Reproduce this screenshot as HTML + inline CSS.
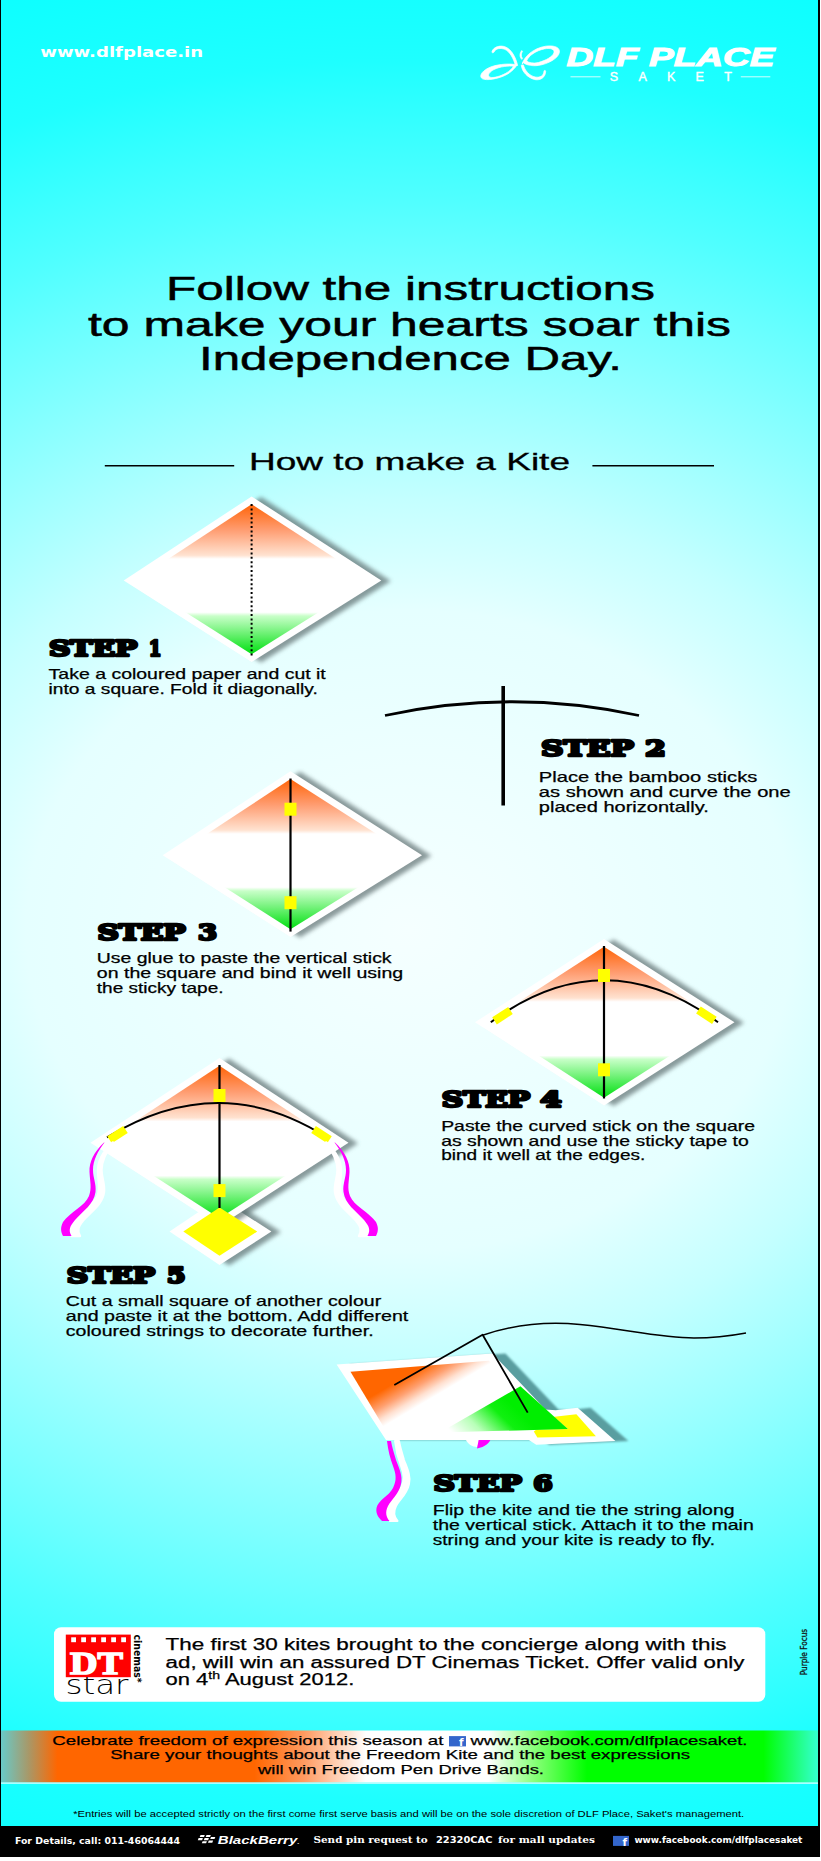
<!DOCTYPE html>
<html><head><meta charset="utf-8"><title>DLF Place Saket - How to make a Kite</title>
<style>
html,body{margin:0;padding:0;}
body{width:821px;height:1861px;overflow:hidden;background:#fff;font-family:"Liberation Sans",sans-serif;}
#page{position:relative;width:821px;height:1861px;overflow:hidden;background:#fff;}
#bg{position:absolute;left:0;top:0;width:821px;height:1857px;
background:radial-gradient(ellipse 1200px 1000px at 410px 930px,
 rgb(245,255,255) 0%, rgb(229,255,255) 32%, rgb(196,255,255) 43%, rgb(160,255,255) 52.5%, rgb(104,255,255) 67%, rgb(80,255,255) 73%, rgb(61,255,255) 78.5%, rgb(30,255,255) 87%, rgb(24,255,255) 91%, rgb(12,255,255) 100%);}
svg text{white-space:pre;}
</style></head>
<body><div id="page">
<div id="bg"></div>
<svg id="art" width="821" height="1861" viewBox="0 0 821 1861" style="position:absolute;left:0;top:0">
<defs>
<filter id="sh" x="-20%" y="-20%" width="140%" height="140%"><feGaussianBlur stdDeviation="1.9"/></filter>
<linearGradient id="tri" x1="0" y1="0" x2="0" y2="1">
<stop offset="0" stop-color="#ff6408"/><stop offset="0.17" stop-color="#ff9c70"/><stop offset="0.34" stop-color="#ffe2d0"/><stop offset="0.365" stop-color="#ffffff"/>
<stop offset="0.72" stop-color="#ffffff"/><stop offset="0.745" stop-color="#c8ffc8"/><stop offset="1" stop-color="#00e010"/>
</linearGradient>
</defs>
<rect x="0" y="0" width="1" height="1857" fill="#000"/>
<rect x="818" y="0" width="2" height="1857" fill="#000"/>
<rect x="820" y="0" width="1" height="1861" fill="#fff"/>
<text x="40.2" y="56.8" font-family="DejaVu Sans, sans-serif" font-size="13.3" font-weight="bold" font-style="normal" fill="#fff" textLength="163.0" lengthAdjust="spacingAndGlyphs">www.dlfplace.in</text>
<text x="566.6" y="65.9" font-family="Liberation Sans, sans-serif" font-size="25.6" font-weight="bold" font-style="italic" fill="#fff" textLength="208.0" lengthAdjust="spacingAndGlyphs" stroke="#fff" stroke-width="1">DLF PLACE</text>
<text x="609.8" y="81.4" font-family="Liberation Sans, sans-serif" font-size="12.5" fill="#fff" stroke="#fff" stroke-width="0.4" textLength="122" lengthAdjust="spacing">SAKET</text>
<rect x="570.5" y="76.3" width="30" height="1" fill="#fff" opacity="0.8"/><rect x="740.8" y="76.3" width="29.5" height="1" fill="#fff" opacity="0.8"/>
<g transform="translate(475,35) scale(0.1218)" fill="#fff" stroke="#fff" stroke-width="6" stroke-linejoin="round">
<path fill-rule="evenodd" d="M345,246 C300,233 200,236 130,262 C65,288 35,328 52,352 C70,376 150,368 222,342 C285,318 322,282 345,246 Z M316,257 C280,251 205,258 155,284 C112,306 100,336 122,346 C150,357 212,337 252,315 C286,296 304,276 316,257 Z"/>
<path fill-rule="evenodd" d="M388,240 C400,180 478,108 580,92 C655,82 702,104 692,146 C682,192 600,238 520,250 C462,258 412,243 392,224 Z M424,212 C440,170 500,128 570,114 C625,104 655,118 648,146 C640,176 585,208 520,226 C475,236 440,228 424,212 Z"/>
<path d="M140,135 C150,100 205,80 250,98 C300,118 335,185 350,250 L332,252 C318,195 285,135 245,118 C210,104 170,110 158,138 C150,150 136,148 140,135 Z"/>
<path d="M380,248 C385,300 430,350 490,366 C540,376 580,345 580,298 C580,288 566,288 566,298 C564,335 535,352 495,345 C445,335 408,290 398,246 Z"/>
<path d="M384,128 C366,150 364,180 384,200 L390,192 C376,176 378,152 390,134 Z"/>
</g>
<text x="166.0" y="299.6" font-family="Liberation Sans, sans-serif" font-size="33.2" font-weight="normal" font-style="normal" fill="#000" textLength="489.0" lengthAdjust="spacingAndGlyphs" stroke="#000" stroke-width="0.5">Follow the instructions</text>
<text x="88.0" y="335.9" font-family="Liberation Sans, sans-serif" font-size="33.2" font-weight="normal" font-style="normal" fill="#000" textLength="643.0" lengthAdjust="spacingAndGlyphs" stroke="#000" stroke-width="0.5">to make your hearts soar this</text>
<text x="199.0" y="370.2" font-family="Liberation Sans, sans-serif" font-size="33.2" font-weight="normal" font-style="normal" fill="#000" textLength="423.0" lengthAdjust="spacingAndGlyphs" stroke="#000" stroke-width="0.5">Independence Day.</text>
<rect x="104.8" y="465" width="129.4" height="1.5" fill="#000"/><rect x="592.4" y="465" width="121.6" height="1.5" fill="#000"/>
<text x="249.0" y="470.4" font-family="Liberation Sans, sans-serif" font-size="23.8" font-weight="normal" font-style="normal" fill="#000" textLength="321.0" lengthAdjust="spacingAndGlyphs" stroke="#000" stroke-width="0.3">How to make a Kite</text>
<polygon points="251.6,496.4 381.3,580.5 251.6,662 123.7,580.5" fill="#5a6a6c" opacity="0.68" filter="url(#sh)" transform="translate(9.5,0.5)"/>
<polygon points="251.6,496.4 381.3,580.5 251.6,662 123.7,580.5" fill="#fff"/>
<polygon points="251.6,504.2 369.4,580.5 251.6,654.3 135.5,580.5" fill="url(#tri)"/>
<line x1="251.6" y1="504" x2="251.6" y2="657" stroke="#000" stroke-width="2" stroke-dasharray="2 2.4"/>
<text y="655.6" font-family="DejaVu Serif, Liberation Serif, serif" font-size="21.8" font-weight="bold" fill="#000" stroke="#000" stroke-width="2.6" stroke-linejoin="round"><tspan x="49.0" textLength="88.2" lengthAdjust="spacingAndGlyphs">STEP</tspan> <tspan x="148.7" textLength="12.7" lengthAdjust="spacingAndGlyphs">1</tspan></text>
<text x="48.6" y="678.9" font-family="Liberation Sans, sans-serif" font-size="14.3" font-weight="normal" font-style="normal" fill="#000" textLength="277.2" lengthAdjust="spacingAndGlyphs" stroke="#000" stroke-width="0.25">Take a coloured paper and cut it</text>
<text x="48.6" y="693.5" font-family="Liberation Sans, sans-serif" font-size="14.3" font-weight="normal" font-style="normal" fill="#000" textLength="269.2" lengthAdjust="spacingAndGlyphs" stroke="#000" stroke-width="0.25">into a square. Fold it diagonally.</text>
<path d="M385,715.5 Q512,688 639,715.5" fill="none" stroke="#000" stroke-width="2.8"/>
<line x1="503.2" y1="686" x2="503.2" y2="805.5" stroke="#000" stroke-width="3.6"/>
<text y="756.1" font-family="DejaVu Serif, Liberation Serif, serif" font-size="22.9" font-weight="bold" fill="#000" stroke="#000" stroke-width="2.6" stroke-linejoin="round"><tspan x="541.1" textLength="92.7" lengthAdjust="spacingAndGlyphs">STEP</tspan> <tspan x="644.9" textLength="20.9" lengthAdjust="spacingAndGlyphs">2</tspan></text>
<text x="538.8" y="781.7" font-family="Liberation Sans, sans-serif" font-size="14.3" font-weight="normal" font-style="normal" fill="#000" textLength="218.5" lengthAdjust="spacingAndGlyphs" stroke="#000" stroke-width="0.25">Place the bamboo sticks</text>
<text x="538.8" y="796.9" font-family="Liberation Sans, sans-serif" font-size="14.3" font-weight="normal" font-style="normal" fill="#000" textLength="252.0" lengthAdjust="spacingAndGlyphs" stroke="#000" stroke-width="0.25">as shown and curve the one</text>
<text x="538.8" y="812.3" font-family="Liberation Sans, sans-serif" font-size="14.3" font-weight="normal" font-style="normal" fill="#000" textLength="170.0" lengthAdjust="spacingAndGlyphs" stroke="#000" stroke-width="0.25">placed horizontally.</text>
<polygon points="290.5,771.2 422,855.2 290.5,937 162.7,855.2" fill="#5a6a6c" opacity="0.68" filter="url(#sh)" transform="translate(9.5,0.5)"/>
<polygon points="290.5,771.2 422,855.2 290.5,937 162.7,855.2" fill="#fff"/>
<polygon points="290.5,779.0 409.9,855.2 290.5,929.3 174.5,855.2" fill="url(#tri)"/>
<line x1="290.5" y1="778.5" x2="290.5" y2="931.6" stroke="#000" stroke-width="2.2"/>
<rect x="284.5" y="802.7" width="12" height="13" fill="#ffff00"/>
<rect x="284.5" y="896.2" width="12" height="13" fill="#ffff00"/>
<text y="939.7" font-family="DejaVu Serif, Liberation Serif, serif" font-size="21.8" font-weight="bold" fill="#000" stroke="#000" stroke-width="2.6" stroke-linejoin="round"><tspan x="97.4" textLength="88.2" lengthAdjust="spacingAndGlyphs">STEP</tspan> <tspan x="198.0" textLength="19.1" lengthAdjust="spacingAndGlyphs">3</tspan></text>
<text x="96.8" y="962.9" font-family="Liberation Sans, sans-serif" font-size="14.3" font-weight="normal" font-style="normal" fill="#000" textLength="294.8" lengthAdjust="spacingAndGlyphs" stroke="#000" stroke-width="0.25">Use glue to paste the vertical stick</text>
<text x="96.8" y="977.8" font-family="Liberation Sans, sans-serif" font-size="14.3" font-weight="normal" font-style="normal" fill="#000" textLength="306.4" lengthAdjust="spacingAndGlyphs" stroke="#000" stroke-width="0.25">on the square and bind it well using</text>
<text x="96.8" y="992.7" font-family="Liberation Sans, sans-serif" font-size="14.3" font-weight="normal" font-style="normal" fill="#000" textLength="126.7" lengthAdjust="spacingAndGlyphs" stroke="#000" stroke-width="0.25">the sticky tape.</text>
<polygon points="604,939 734.5,1022.3 604,1105.5 475,1022.3" fill="#5a6a6c" opacity="0.68" filter="url(#sh)" transform="translate(9.5,0.5)"/>
<polygon points="604,939 734.5,1022.3 604,1105.5 475,1022.3" fill="#fff"/>
<polygon points="604,946.7 722.4,1022.3 604,1097.8 487.0,1022.3" fill="url(#tri)"/>
<line x1="604" y1="946" x2="604" y2="1098.5" stroke="#000" stroke-width="2.2"/>
<path d="M490.8,1022.3 Q604,938.3 718,1022.3" fill="none" stroke="#000" stroke-width="2"/>
<rect x="598.0" y="969.0" width="12" height="13" fill="#ffff00"/>
<rect x="598.0" y="1063.3" width="12" height="13" fill="#ffff00"/>
<rect x="493.0" y="1011.5" width="19" height="8.4" fill="#ffff00" transform="rotate(-33 502.5 1015.7)"/>
<rect x="696.9" y="1011.0" width="19" height="8.4" fill="#ffff00" transform="rotate(33 706.4 1015.2)"/>
<text y="1107.2" font-family="DejaVu Serif, Liberation Serif, serif" font-size="21.8" font-weight="bold" fill="#000" stroke="#000" stroke-width="2.6" stroke-linejoin="round"><tspan x="441.8" textLength="88.2" lengthAdjust="spacingAndGlyphs">STEP</tspan> <tspan x="540.3" textLength="21.4" lengthAdjust="spacingAndGlyphs">4</tspan></text>
<text x="441.2" y="1130.5" font-family="Liberation Sans, sans-serif" font-size="14.3" font-weight="normal" font-style="normal" fill="#000" textLength="313.8" lengthAdjust="spacingAndGlyphs" stroke="#000" stroke-width="0.25">Paste the curved stick on the square</text>
<text x="441.2" y="1145.5" font-family="Liberation Sans, sans-serif" font-size="14.3" font-weight="normal" font-style="normal" fill="#000" textLength="307.6" lengthAdjust="spacingAndGlyphs" stroke="#000" stroke-width="0.25">as shown and use the sticky tape to</text>
<text x="441.2" y="1160.4" font-family="Liberation Sans, sans-serif" font-size="14.3" font-weight="normal" font-style="normal" fill="#000" textLength="204.1" lengthAdjust="spacingAndGlyphs" stroke="#000" stroke-width="0.25">bind it well at the edges.</text>
<polygon points="219.5,1198 271.4,1231.6 219.5,1265 169.5,1231.6" fill="#5a6a6c" opacity="0.68" filter="url(#sh)" transform="translate(9.5,0.5)"/>
<polygon points="219.5,1198 271.4,1231.6 219.5,1265 169.5,1231.6" fill="#fff"/>
<polygon points="219.5,1058 348.5,1142.7 219.5,1226 90.5,1142.7" fill="#5a6a6c" opacity="0.68" filter="url(#sh)" transform="translate(9.5,0.5)"/>
<polygon points="219.5,1058 348.5,1142.7 219.5,1226 90.5,1142.7" fill="#fff"/>
<polygon points="219.5,1065.8 336.7,1142.7 219.5,1218.3 102.3,1142.7" fill="url(#tri)"/>
<polygon points="219.5,1207.4 257.2,1231.6 219.5,1255.7 183.3,1231.6" fill="#ffff00"/>
<line x1="219.5" y1="1065" x2="219.5" y2="1208" stroke="#000" stroke-width="2.2"/>
<path d="M107,1137.4 Q219.5,1068.6 327,1137.4" fill="none" stroke="#000" stroke-width="2"/>
<rect x="213.5" y="1089.0" width="12" height="13" fill="#ffff00"/>
<rect x="213.5" y="1184.1" width="12" height="13" fill="#ffff00"/>
<rect x="108.0" y="1130.3999999999999" width="19" height="8.4" fill="#ffff00" transform="rotate(-33 117.5 1134.6)"/>
<rect x="312.0" y="1130.3999999999999" width="19" height="8.4" fill="#ffff00" transform="rotate(33 321.5 1134.6)"/>
<path d="M104,1142.5 C94,1152 89,1162 89.5,1172 C90,1182 92,1188 89,1196 C85,1206 70,1212 63,1222 C60,1228 61,1232 63,1236 L71.5,1236 C68,1230 70,1226 75,1220 C83,1211 94,1204 95.5,1192 C96.5,1184 93,1178 93,1170 C93,1160 98,1151 104.5,1142.5 Z" fill="#fff" stroke="#fff" stroke-width="2.4" stroke-linejoin="round" transform="translate(8.5,0)"/>
<path d="M104,1142.5 C94,1152 89,1162 89.5,1172 C90,1182 92,1188 89,1196 C85,1206 70,1212 63,1222 C60,1228 61,1232 63,1236 L71.5,1236 C68,1230 70,1226 75,1220 C83,1211 94,1204 95.5,1192 C96.5,1184 93,1178 93,1170 C93,1160 98,1151 104.5,1142.5 Z" fill="#ff00ff"/>
<g transform="translate(439,0) scale(-1,1)"><path d="M104,1142.5 C94,1152 89,1162 89.5,1172 C90,1182 92,1188 89,1196 C85,1206 70,1212 63,1222 C60,1228 61,1232 63,1236 L71.5,1236 C68,1230 70,1226 75,1220 C83,1211 94,1204 95.5,1192 C96.5,1184 93,1178 93,1170 C93,1160 98,1151 104.5,1142.5 Z" fill="#fff" stroke="#fff" stroke-width="2.4" stroke-linejoin="round" transform="translate(8.5,0)"/><path d="M104,1142.5 C94,1152 89,1162 89.5,1172 C90,1182 92,1188 89,1196 C85,1206 70,1212 63,1222 C60,1228 61,1232 63,1236 L71.5,1236 C68,1230 70,1226 75,1220 C83,1211 94,1204 95.5,1192 C96.5,1184 93,1178 93,1170 C93,1160 98,1151 104.5,1142.5 Z" fill="#ff00ff"/></g>
<text y="1283.0" font-family="DejaVu Serif, Liberation Serif, serif" font-size="21.8" font-weight="bold" fill="#000" stroke="#000" stroke-width="2.6" stroke-linejoin="round"><tspan x="66.8" textLength="88.2" lengthAdjust="spacingAndGlyphs">STEP</tspan> <tspan x="166.7" textLength="18.9" lengthAdjust="spacingAndGlyphs">5</tspan></text>
<text x="65.8" y="1306.1" font-family="Liberation Sans, sans-serif" font-size="14.3" font-weight="normal" font-style="normal" fill="#000" textLength="315.4" lengthAdjust="spacingAndGlyphs" stroke="#000" stroke-width="0.25">Cut a small square of another colour</text>
<text x="65.8" y="1321.2" font-family="Liberation Sans, sans-serif" font-size="14.3" font-weight="normal" font-style="normal" fill="#000" textLength="342.5" lengthAdjust="spacingAndGlyphs" stroke="#000" stroke-width="0.25">and paste it at the bottom. Add different</text>
<text x="65.8" y="1336.2" font-family="Liberation Sans, sans-serif" font-size="14.3" font-weight="normal" font-style="normal" fill="#000" textLength="307.8" lengthAdjust="spacingAndGlyphs" stroke="#000" stroke-width="0.25">coloured strings to decorate further.</text>
<linearGradient id="k5g" gradientUnits="userSpaceOnUse" x1="0" y1="1185" x2="0" y2="1219"><stop offset="0" stop-color="#60f060"/><stop offset="1" stop-color="#00e010"/></linearGradient>
<linearGradient id="k6a" gradientUnits="userSpaceOnUse" x1="350.5" y1="1371.7" x2="383" y2="1426.8">
<stop offset="0" stop-color="#ff6600"/><stop offset="0.5" stop-color="#ff6600"/><stop offset="0.72" stop-color="#ffa070"/><stop offset="0.88" stop-color="#ffe0d0"/><stop offset="1" stop-color="#fff"/></linearGradient>
<linearGradient id="k6b" gradientUnits="userSpaceOnUse" x1="462" y1="1442" x2="505" y2="1398">
<stop offset="0" stop-color="#fff"/><stop offset="0.35" stop-color="#b8ffb8"/><stop offset="0.75" stop-color="#10f010"/><stop offset="1" stop-color="#00ee00"/></linearGradient>
<polygon points="336.6,1364.4 492.4,1353.4 545.5,1409.6 555.7,1410.2 577.6,1407.7 615.4,1441.1 536.2,1444.7 528.9,1440 386,1440" fill="#5a9ea0" transform="translate(13,0)" filter="url(#sh6)"/>
<filter id="sh6" x="-10%" y="-10%" width="120%" height="120%"><feGaussianBlur stdDeviation="0.8"/></filter>
<path d="M387,1441 C388,1450 390,1458 393,1466 C396,1474 397,1480 393,1488 C389,1496 378,1500 376.5,1508 C375.5,1514 379,1518 382,1521 L389.5,1521 C386,1517 385,1512 388,1506 C391,1500 399,1494 401,1484 C403,1476 399,1468 396,1460 C394,1453 392,1447 391,1441 Z" fill="#fff" stroke="#fff" stroke-width="2" stroke-linejoin="round" transform="translate(8,0)"/>
<path d="M387,1441 C388,1450 390,1458 393,1466 C396,1474 397,1480 393,1488 C389,1496 378,1500 376.5,1508 C375.5,1514 379,1518 382,1521 L389.5,1521 C386,1517 385,1512 388,1506 C391,1500 399,1494 401,1484 C403,1476 399,1468 396,1460 C394,1453 392,1447 391,1441 Z" fill="#ff00ff"/>
<path d="M466,1440 C468,1444 472,1447 477,1447 L480,1440 Z" fill="#fff"/>
<path d="M479,1438 L491,1438 C490,1443 485,1447 477,1448.5 Z" fill="#ff00ff"/>
<polygon points="336.6,1364.4 492.4,1353.4 545.5,1409.6 555.7,1410.2 577.6,1407.7 615.4,1441.1 536.2,1444.7 528.9,1440 386,1440" fill="#fff"/>
<polygon points="554.5,1416.7 576.4,1414.3 595.9,1436.2 537.4,1437.4 533.8,1431.4" fill="#ffff00"/>
<polygon points="350.5,1371.7 488.7,1360.7 567.9,1428.9 387,1432.6" fill="url(#k6a)"/>
<polygon points="440,1432.6 520.4,1386.3 567.9,1428.9" fill="url(#k6b)"/>
<path d="M394.3,1385 L482.6,1334.8 L527.7,1412.6" fill="none" stroke="#000" stroke-width="1.8" stroke-linejoin="round"/>
<path d="M482.6,1335.2 C510,1326 545,1321 580,1324.5 C625,1329 660,1338 694,1338 C715,1338 730,1336 746,1333" fill="none" stroke="#000" stroke-width="1.5"/>
<text y="1491.2" font-family="DejaVu Serif, Liberation Serif, serif" font-size="21.8" font-weight="bold" fill="#000" stroke="#000" stroke-width="2.6" stroke-linejoin="round"><tspan x="433.5" textLength="88.2" lengthAdjust="spacingAndGlyphs">STEP</tspan> <tspan x="533.2" textLength="19.4" lengthAdjust="spacingAndGlyphs">6</tspan></text>
<text x="432.8" y="1514.5" font-family="Liberation Sans, sans-serif" font-size="14.3" font-weight="normal" font-style="normal" fill="#000" textLength="301.8" lengthAdjust="spacingAndGlyphs" stroke="#000" stroke-width="0.25">Flip the kite and tie the string along</text>
<text x="432.8" y="1529.7" font-family="Liberation Sans, sans-serif" font-size="14.3" font-weight="normal" font-style="normal" fill="#000" textLength="321.0" lengthAdjust="spacingAndGlyphs" stroke="#000" stroke-width="0.25">the vertical stick. Attach it to the main</text>
<text x="432.8" y="1544.7" font-family="Liberation Sans, sans-serif" font-size="14.3" font-weight="normal" font-style="normal" fill="#000" textLength="282.2" lengthAdjust="spacingAndGlyphs" stroke="#000" stroke-width="0.25">string and your kite is ready to fly.</text>
<rect x="54" y="1627.2" width="711.3" height="74.6" rx="7" ry="7" fill="#fff"/>
<text x="65.5" y="1693.8" font-family="DejaVu Sans, sans-serif" font-size="26" font-weight="200" font-style="normal" fill="#000" textLength="63.0" lengthAdjust="spacingAndGlyphs">star</text>
<rect x="65.8" y="1634.6" width="65" height="42.6" fill="#ff0000"/>
<rect x="71.2" y="1637.3" width="4.8" height="4.9" fill="#fff"/>
<rect x="81.2" y="1637.3" width="4.8" height="4.9" fill="#fff"/>
<rect x="91.2" y="1637.3" width="4.8" height="4.9" fill="#fff"/>
<rect x="101.2" y="1637.3" width="4.8" height="4.9" fill="#fff"/>
<rect x="111.2" y="1637.3" width="4.8" height="4.9" fill="#fff"/>
<rect x="121.2" y="1637.3" width="4.8" height="4.9" fill="#fff"/>
<text x="70.0" y="1674.0" font-family="Liberation Serif, serif" font-size="31" font-weight="bold" font-style="normal" fill="#fff" textLength="53.0" lengthAdjust="spacingAndGlyphs" stroke="#fff" stroke-width="1.5">DT</text>
<g transform="translate(133.5,1634.6) rotate(90)"><text x="0.0" y="0.0" font-family="DejaVu Sans, sans-serif" font-size="11" font-weight="bold" font-style="normal" fill="#000" textLength="48.0" lengthAdjust="spacingAndGlyphs">cinemas*</text></g>
<text x="165.6" y="1650.3" font-family="Liberation Sans, sans-serif" font-size="15.6" font-weight="normal" font-style="normal" fill="#000" textLength="561.0" lengthAdjust="spacingAndGlyphs" stroke="#000" stroke-width="0.25">The first 30 kites brought to the concierge along with this</text>
<text x="165.6" y="1667.9" font-family="Liberation Sans, sans-serif" font-size="15.6" font-weight="normal" font-style="normal" fill="#000" textLength="578.8" lengthAdjust="spacingAndGlyphs" stroke="#000" stroke-width="0.25">ad, will win an assured DT Cinemas Ticket. Offer valid only</text>
<text x="165.6" y="1685.4" font-family="Liberation Sans, sans-serif" font-size="15.6" fill="#000" stroke="#000" stroke-width="0.25" textLength="188.7" lengthAdjust="spacingAndGlyphs">on 4<tspan font-size="10" dy="-6">th</tspan><tspan dy="6"> August 2012.</tspan></text>
<g transform="translate(807.2,1675.3) rotate(-90)"><text x="0.0" y="0.0" font-family="DejaVu Sans, sans-serif" font-size="9" font-weight="normal" font-style="normal" fill="#111" textLength="46.5" lengthAdjust="spacingAndGlyphs" stroke="#111" stroke-width="0.3">Purple Focus</text></g>
<linearGradient id="band" gradientUnits="userSpaceOnUse" x1="0" y1="0" x2="821" y2="0">
<stop offset="0" stop-color="#66cccc"/><stop offset="0.035" stop-color="#a89868"/><stop offset="0.07" stop-color="#ff6600"/>
<stop offset="0.31" stop-color="#ff6600"/><stop offset="0.37" stop-color="#ff9a60"/><stop offset="0.446" stop-color="#ffffff"/><stop offset="0.595" stop-color="#ffffff"/>
<stop offset="0.655" stop-color="#80ff70"/><stop offset="0.715" stop-color="#00ff00"/><stop offset="0.93" stop-color="#00ff00"/><stop offset="0.995" stop-color="#33ffcc"/></linearGradient>
<rect x="1" y="1730.5" width="817" height="52" fill="url(#band)"/>
<rect x="1" y="1782.5" width="817" height="1.2" fill="#e8ffff"/>
<text x="52.3" y="1745.3" font-family="Liberation Sans, sans-serif" font-size="13.6" font-weight="normal" font-style="normal" fill="#000" textLength="391.1" lengthAdjust="spacingAndGlyphs" stroke="#000" stroke-width="0.25">Celebrate freedom of expression this season at</text>
<rect x="449" y="1736.1" width="17" height="10.3" fill="#3366cc"/>
<text x="459.0" y="1746.4" font-family="DejaVu Sans, sans-serif" font-size="10.5" font-weight="bold" font-style="normal" fill="#fff">f</text>
<text x="470.4" y="1745.3" font-family="Liberation Sans, sans-serif" font-size="13.6" font-weight="normal" font-style="normal" fill="#000" textLength="277.1" lengthAdjust="spacingAndGlyphs" stroke="#000" stroke-width="0.25">www.facebook.com/dlfplacesaket.</text>
<text x="110.2" y="1759.4" font-family="Liberation Sans, sans-serif" font-size="13.6" font-weight="normal" font-style="normal" fill="#000" textLength="580.0" lengthAdjust="spacingAndGlyphs" stroke="#000" stroke-width="0.25">Share your thoughts about the Freedom Kite and the best expressions</text>
<text x="258.0" y="1773.5" font-family="Liberation Sans, sans-serif" font-size="13.6" font-weight="normal" font-style="normal" fill="#000" textLength="286.0" lengthAdjust="spacingAndGlyphs" stroke="#000" stroke-width="0.25">will win Freedom Pen Drive Bands.</text>
<text x="73.2" y="1817.0" font-family="Liberation Sans, sans-serif" font-size="8.8" font-weight="normal" font-style="normal" fill="#000" textLength="671.0" lengthAdjust="spacingAndGlyphs">*Entries will be accepted strictly on the first come first serve basis and will be on the sole discretion of DLF Place, Saket's management.</text>
<rect x="0" y="1826" width="820" height="31" fill="#000"/>
<text x="14.9" y="1843.7" font-family="DejaVu Sans, sans-serif" font-size="8.3" font-weight="bold" font-style="normal" fill="#fff" textLength="165.2" lengthAdjust="spacingAndGlyphs">For Details, call: 011-46064444</text>
<polygon points="200.5,1835 204.8,1835 204.0,1837.1 199.7,1837.1" fill="#fff"/><polygon points="206.5,1835 210.8,1835 210.0,1837.1 205.7,1837.1" fill="#fff"/><polygon points="198.6,1838.1 202.9,1838.1 202.1,1840.1999999999998 197.79999999999998,1840.1999999999998" fill="#fff"/><polygon points="204.6,1838.1 208.9,1838.1 208.1,1840.1999999999998 203.79999999999998,1840.1999999999998" fill="#fff"/><polygon points="211,1836.9 215.3,1836.9 214.5,1839.0 210.2,1839.0" fill="#fff"/><polygon points="202.6,1841.2 206.9,1841.2 206.1,1843.3 201.79999999999998,1843.3" fill="#fff"/><polygon points="208.8,1840.6 213.10000000000002,1840.6 212.3,1842.6999999999998 208.0,1842.6999999999998" fill="#fff"/>
<text x="217.8" y="1844.3" font-family="Liberation Sans, sans-serif" font-size="10.4" font-weight="bold" font-style="italic" fill="#fff" textLength="82" lengthAdjust="spacingAndGlyphs">BlackBerry<tspan font-size="6">.</tspan></text>
<text x="313.5" y="1843.4" font-family="DejaVu Serif, serif" font-size="8.8" font-weight="bold" font-style="normal" fill="#fff" textLength="114.3" lengthAdjust="spacingAndGlyphs">Send pin request to</text>
<text x="436.0" y="1843.4" font-family="DejaVu Sans, sans-serif" font-size="8.7" font-weight="bold" font-style="normal" fill="#fff" textLength="56.5" lengthAdjust="spacingAndGlyphs">22320CAC</text>
<text x="498.0" y="1843.4" font-family="DejaVu Serif, serif" font-size="8.8" font-weight="bold" font-style="normal" fill="#fff" textLength="97.0" lengthAdjust="spacingAndGlyphs">for mall updates</text>
<rect x="613" y="1835.9" width="16" height="10" fill="#3366cc"/>
<text x="622.5" y="1845.9" font-family="DejaVu Sans, sans-serif" font-size="10.5" font-weight="bold" font-style="normal" fill="#fff">f</text>
<text x="634.4" y="1842.9" font-family="DejaVu Sans, sans-serif" font-size="8.3" font-weight="bold" font-style="normal" fill="#fff" textLength="168.0" lengthAdjust="spacingAndGlyphs">www.facebook.com/dlfplacesaket</text>
</svg>
</div></body></html>
